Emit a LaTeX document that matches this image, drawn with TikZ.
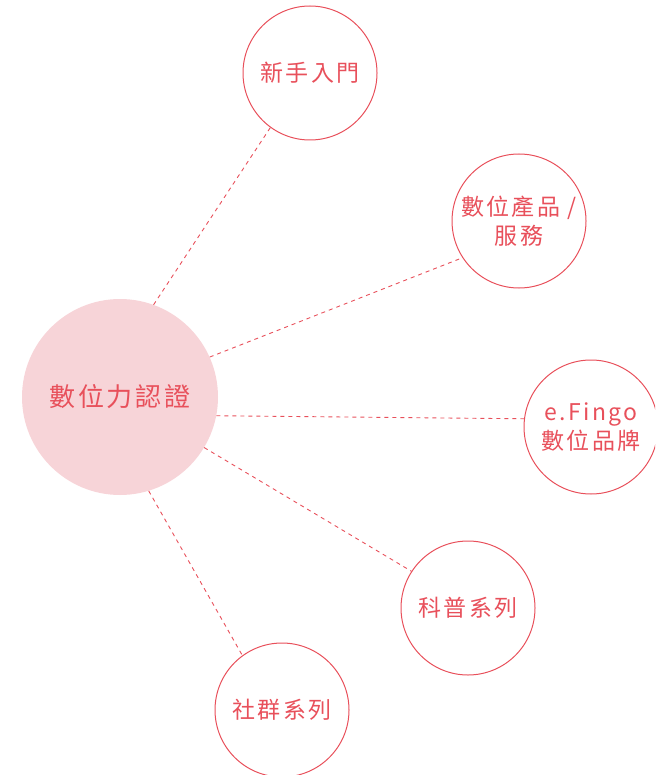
\documentclass[tikz,border=0pt]{standalone}
\usepackage{fontspec}
\setmainfont{Noto Sans CJK TC}
\newfontfamily\cjkwide{Noto Sans CJK TC}[LetterSpace=10]

\definecolor{certred}{HTML}{E8505B}
\definecolor{certpink}{HTML}{F7D4D8}

\begin{document}
\begin{tikzpicture}[x=1pt, y=-1pt,
    hub/.style={circle, fill=certpink, minimum size=196pt, inner sep=0pt,
        text=certred, font=\cjkwide\fontsize{26}{30}\selectfont},
    topic/.style={circle, draw=certred, line width=1pt, minimum size=134pt,
        inner sep=0pt, text=certred, align=center,
        font=\cjkwide\fontsize{23}{29.5}\selectfont},
    link/.style={certred, line width=0.9pt, dash pattern=on 4pt off 4pt}]
        % Khung hình
        \useasboundingbox (0,0) rectangle (655,775);
        \clip (0,0) rectangle (655,775);

        % Vòng tròn trung tâm
        \node[hub] (cert) at (120,397) {數位力認證};

        % Các chủ đề
        \node[topic] (starter) at (310,73) {新手入門};
        \node[topic] (product) at (519,221) {數位產品 /\\服務};
        \node[topic] (brand) at (591,427) {e.Fingo\\數位品牌};
        \node[topic] (science) at (468,608) {科普系列};
        \node[topic] (social) at (282,710) {社群系列};

        % Đường nối nét đứt
        \draw[link] (cert.70) -- (starter.234);
        \draw[link] (cert.24) -- (product.213);
        \draw[link] (cert.-11) -- (brand.173);
        \draw[link] (cert.-31) -- (science.147);
        \draw[link] (cert.-73) -- (social.126);
    \end{tikzpicture}
\end{document}
